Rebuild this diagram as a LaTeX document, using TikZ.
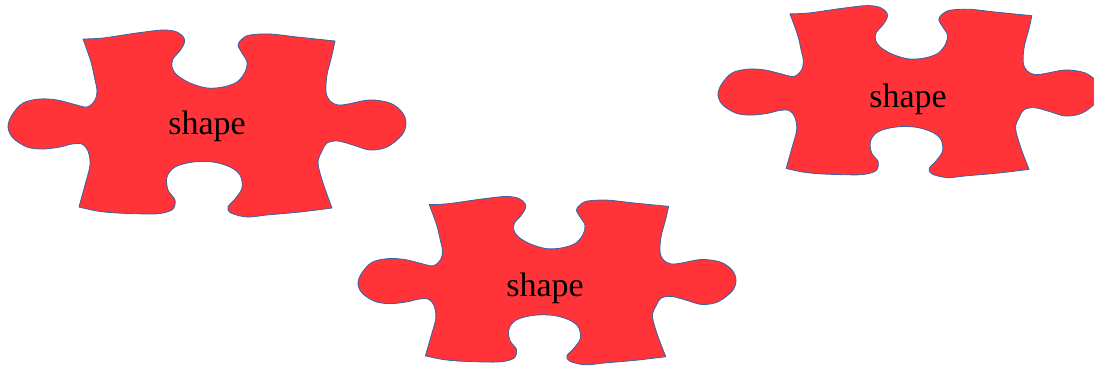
\documentclass[tikz,border=0pt]{standalone}
\usepackage{fontspec}
\setmainfont{Liberation Serif}
\definecolor{piecered}{RGB}{255,51,56}
\definecolor{pieceline}{RGB}{52,101,164}
\newcommand{\puzzlepath}{%
  plot[smooth,tension=0.55] coordinates {(-124,-86) (-104,-87) (-70,-92) (-44,-95) (-30,-93) (-23,-87) (-23,-81) (-28,-73) (-34,-66) (-35,-58) (-30,-50) (-17,-42) (0,-37) (16,-38) (30,-43) (38,-53) (40,-63) (35,-72) (31,-80) (35,-86) (43,-90) (63,-91) (90,-88) (128,-84)}
  -- plot[smooth,tension=0.55] coordinates {(128,-84) (125,-70) (120,-50) (119,-33) (123,-24) (131,-20) (141,-21) (163,-25) (183,-22) (195,-13) (199,-2) (195,10) (180,22) (163,25) (146,20) (131,16) (120,18) (115,26) (111,38) (116,58) (125,83)}
  -- plot[smooth,tension=0.55] coordinates {(125,83) (93,87) (60,90) (40,92) (24,88) (21,82) (28,74) (35,63) (33,50) (23,42) (6,37) (-14,37) (-32,42) (-40,52) (-39,65) (-32,75) (-34,84) (-44,88) (-57,89) (-90,88) (-110,86) (-128,82)}
  -- plot[smooth,tension=0.55] coordinates {(-128,82) (-122,60) (-117,40) (-119,26) (-125,19) (-135,19) (-147,22) (-164,24) (-180,22) (-194,13) (-199,2) (-195,-10) (-184,-22) (-167,-26) (-150,-25) (-134,-21) (-120,-18) (-112,-25) (-110,-35) (-112,-45) (-116,-63) (-124,-86)}
  -- cycle}
\tikzset{
  piece/.style={fill=piecered,draw=pieceline,line width=0.4pt,line join=round},
  piecelabel/.style={font=\fontsize{17}{20}\selectfont,text=black,inner sep=0pt}
}
\begin{document}
\begin{tikzpicture}[x=0.5pt,y=-0.5pt]
\useasboundingbox (0,0) rectangle (1094,365);
\begin{scope}[shift={(207,125)}]
  \path[piece] \puzzlepath;
\end{scope}
\node[piecelabel] (label1) at (207,126) {shape};
\begin{scope}[shift={(547,282)},xscale=0.95,yscale=0.9]
  \path[piece] \puzzlepath;
\end{scope}
\node[piecelabel] (label2) at (545,288) {shape};
\begin{scope}[shift={(909,93)},xscale=0.96,yscale=0.92]
  \path[piece] \puzzlepath;
\end{scope}
\node[piecelabel] (label3) at (908,99) {shape};
\end{tikzpicture}
\end{document}
